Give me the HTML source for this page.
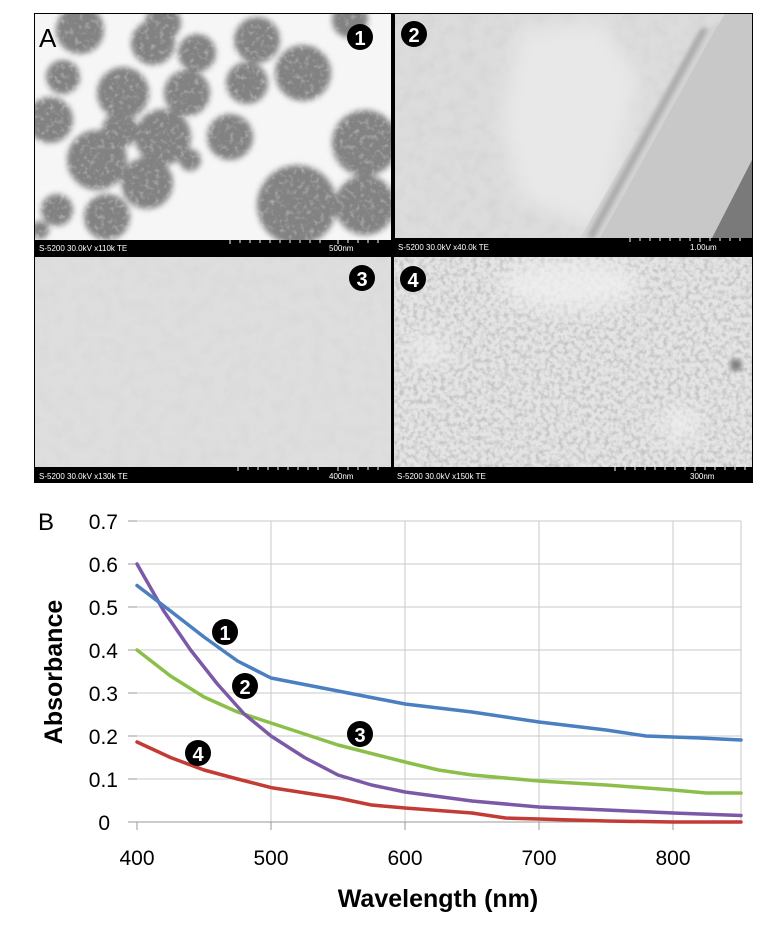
<!DOCTYPE html>
<html><head><meta charset="utf-8"><style>
html,body{margin:0;padding:0;background:#fff;}
body{width:782px;height:942px;overflow:hidden;position:relative;font-family:"Liberation Sans",sans-serif;}
</style></head><body>
<svg width="782" height="942" viewBox="0 0 782 942" xmlns="http://www.w3.org/2000/svg" style="position:absolute;left:0;top:0">
<defs>
<filter id="bl" x="-20%" y="-20%" width="140%" height="140%"><feGaussianBlur stdDeviation="3"/></filter>
<filter id="bl2" x="-20%" y="-20%" width="140%" height="140%"><feGaussianBlur stdDeviation="10"/></filter>
<filter id="noise"><feTurbulence type="fractalNoise" baseFrequency="0.22" numOctaves="2" seed="3"/><feColorMatrix type="matrix" values="0 0 0 0 0.55  0 0 0 0 0.55  0 0 0 0 0.55  0 0 0 2.6 -1.05"/></filter>
<filter id="noise2"><feTurbulence type="fractalNoise" baseFrequency="0.08" numOctaves="3" seed="7"/><feColorMatrix type="matrix" values="0 0 0 0 0.6  0 0 0 0 0.6  0 0 0 0 0.6  0 0 0 1.4 -0.55"/></filter>
<filter id="noise3"><feTurbulence type="fractalNoise" baseFrequency="0.2" numOctaves="2" seed="11"/><feColorMatrix type="matrix" values="0 0 0 0 0.95  0 0 0 0 0.95  0 0 0 0 0.95  0 0 0 1.8 -0.9"/></filter>
<clipPath id="c1"><rect x="35" y="14" width="356" height="226"/></clipPath>
<clipPath id="c2"><rect x="395" y="14" width="357" height="224"/></clipPath>
<clipPath id="c3"><rect x="35" y="257" width="356" height="210"/></clipPath>
<clipPath id="c4"><rect x="394" y="257" width="358" height="210"/></clipPath>
</defs>
<rect x="34" y="13" width="719" height="470" fill="#000"/>
<g clip-path="url(#c1)">
<rect x="35" y="14" width="356" height="226" fill="#f6f6f6"/>
<g fill="#828282" filter="url(#bl)">
<circle cx="80" cy="30" r="24"/><circle cx="63" cy="77" r="17"/><circle cx="123" cy="93" r="26"/><circle cx="153" cy="43" r="22"/>
<circle cx="197" cy="53" r="19"/><circle cx="187" cy="93" r="23"/><circle cx="247" cy="83" r="21"/><circle cx="257" cy="40" r="23"/>
<circle cx="303" cy="73" r="28"/><circle cx="50" cy="120" r="23"/><circle cx="97" cy="160" r="30"/><circle cx="163" cy="137" r="28"/>
<circle cx="230" cy="137" r="23"/><circle cx="147" cy="183" r="26"/><circle cx="57" cy="210" r="16"/><circle cx="107" cy="217" r="23"/>
<circle cx="297" cy="205" r="40"/><circle cx="365" cy="143" r="33"/><circle cx="365" cy="205" r="30"/><circle cx="190" cy="160" r="11"/>
<circle cx="163" cy="23" r="18"/><circle cx="350" cy="20" r="18"/><circle cx="120" cy="130" r="18"/><circle cx="40" cy="230" r="9"/>
</g>
<rect x="35" y="14" width="356" height="226" filter="url(#noise3)" opacity="0.5"/>
</g>
<rect x="35" y="240" width="356" height="16" fill="#000"/>
<text x="39" y="251" font-size="8" fill="#fff">S-5200 30.0kV x110k TE</text>
<text x="329" y="251" font-size="8" fill="#fff">500nm</text>
<path d="M230 240v4M240 240v3M250 240v3M260 240v3M270 240v3M280 240v3M290 240v3M300 240v3M310 240v3M320 240v3M338 240v4M348 240v3M358 240v3M368 240v3M378 240v3" stroke="#fff" stroke-width="1"/>
<text x="39" y="47" font-size="26" fill="#000">A</text>
<circle cx="360" cy="37" r="13" fill="#000"/><text x="360" y="45" font-size="20" font-weight="bold" fill="#fff" text-anchor="middle">1</text>
<g clip-path="url(#c2)">
<rect x="395" y="14" width="357" height="224" fill="#dcdcdc"/>
<rect x="395" y="14" width="357" height="224" filter="url(#noise2)" opacity="0.6"/>
<g fill="#e8e8e8" filter="url(#bl2)"><path d="M520 30 L600 20 L640 80 L620 160 L600 230 L520 200 L500 120 Z"/></g>
<path d="M580 238 L700 30 L752 14 L752 238 Z" fill="#d4d4d4"/>
<path d="M600 238 L715 30 L725 14 L752 14 L752 238 Z" fill="#c8c8c8"/>
<path d="M712 238 L752 160 L752 238 Z" fill="#7a7a7a"/>
<path d="M590 238 L705 28" stroke="#9a9a9a" stroke-width="5" filter="url(#bl)"/>
</g>
<rect x="395" y="238" width="357" height="18" fill="#000"/>
<text x="398" y="250" font-size="8" fill="#fff">S-5200 30.0kV x40.0k TE</text>
<text x="690" y="250" font-size="8" fill="#fff">1.00um</text>
<path d="M630 238v4M640 238v3M650 238v3M660 238v3M670 238v3M680 238v3M690 238v3M700 238v4M710 238v3M720 238v3M730 238v3M740 238v3" stroke="#fff"/>
<circle cx="414" cy="34" r="13" fill="#000"/><text x="414" y="42" font-size="20" font-weight="bold" fill="#fff" text-anchor="middle">2</text>
<g clip-path="url(#c3)">
<rect x="35" y="257" width="356" height="210" fill="#dedede"/>
<rect x="35" y="257" width="356" height="210" filter="url(#noise2)" opacity="0.35"/>
</g>
<rect x="35" y="467" width="356" height="16" fill="#000"/>
<text x="39" y="479" font-size="8" fill="#fff">S-5200 30.0kV x130k TE</text>
<text x="329" y="479" font-size="8" fill="#fff">400nm</text>
<path d="M238 467v4M248 467v3M258 467v3M268 467v3M278 467v3M288 467v3M298 467v3M308 467v3M318 467v3M338 467v4M348 467v3M358 467v3M368 467v3M378 467v3" stroke="#fff"/>
<circle cx="362" cy="278" r="13" fill="#000"/><text x="362" y="286" font-size="20" font-weight="bold" fill="#fff" text-anchor="middle">3</text>
<g clip-path="url(#c4)">
<rect x="394" y="257" width="358" height="210" fill="#e4e4e4"/>
<rect x="394" y="257" width="358" height="210" filter="url(#noise)"/>
<g fill="#f0f0f0" filter="url(#bl2)" opacity="0.8"><ellipse cx="570" cy="285" rx="70" ry="25"/><ellipse cx="680" cy="425" rx="18" ry="18"/><ellipse cx="430" cy="350" rx="18" ry="14"/></g>
<circle cx="736" cy="365" r="6" fill="#777" filter="url(#bl)"/>
</g>
<rect x="394" y="467" width="358" height="16" fill="#000"/>
<text x="397" y="479" font-size="8" fill="#fff">S-5200 30.0kV x150k TE</text>
<text x="690" y="479" font-size="8" fill="#fff">300nm</text>
<path d="M615 467v4M625 467v3M635 467v3M645 467v3M655 467v3M665 467v3M675 467v3M685 467v3M695 467v4M705 467v3M715 467v3M725 467v3M735 467v3M745 467v3" stroke="#fff"/>
<circle cx="413" cy="279" r="13" fill="#000"/><text x="413" y="287" font-size="20" font-weight="bold" fill="#fff" text-anchor="middle">4</text>
<text x="38" y="530" font-size="24" fill="#000">B</text>
<g stroke="#c8c8c8" stroke-width="1">
<path d="M137 521H741M137 564H741M137 607H741M137 650H741M137 693H741M137 736H741M137 779H741"/>
<path d="M271 521V822M405 521V822M539 521V822M673 521V822M741 521V822"/>
</g>
<path d="M128 822H741M137 822V830M271 822V830M405 822V830M539 822V830M673 822V830" stroke="#999" stroke-width="1"/>
<path d="M128 521H137M128 564H137M128 607H137M128 650H137M128 693H137M128 736H137M128 779H137" stroke="#999"/>
<g font-size="21" fill="#000" text-anchor="end">
<text x="118" y="529">0.7</text><text x="118" y="572">0.6</text><text x="118" y="615">0.5</text><text x="118" y="658">0.4</text>
<text x="118" y="701">0.3</text><text x="118" y="744">0.2</text><text x="118" y="787">0.1</text><text x="110" y="830">0</text>
</g>
<g font-size="21" fill="#000" text-anchor="middle">
<text x="137" y="865">400</text><text x="271" y="865">500</text><text x="405" y="865">600</text><text x="539" y="865">700</text><text x="673" y="865">800</text>
</g>
<text x="438" y="907" font-size="25" font-weight="bold" text-anchor="middle">Wavelength (nm)</text>
<text transform="translate(62,672) rotate(-90)" font-size="25" font-weight="bold" text-anchor="middle">Absorbance</text>
<g fill="none" stroke-width="3.5" stroke-linejoin="round" stroke-linecap="round">
<path style="stroke:#c23b35" d="M137 742 L170.5 757.5 L204 770 L237.5 779 L271 787.6 L338 798 L371.5 805 L405 808 L472 813 L505.5 818 L539 819 L606 821 L673 822 L741 822"/>
<path style="stroke:#8cbf4a" d="M137 650 L170.5 676 L204 697 L237.5 712 L271 723 L338 745 L405 762 L438.5 770 L472 775 L539 781 L606 785 L673 790 L706.5 793 L741 793"/>
<path style="stroke:#7b59a7" d="M137 564 L163.8 611 L190.6 650 L217.4 684 L244.2 714 L271 736 L304.5 757.5 L338 775 L371.5 785 L405 792 L472 801 L539 807 L606 810 L673 813 L741 815.5"/>
<path style="stroke:#4a7fc1" d="M137 585.5 L170.5 611 L204 637 L237.5 661 L271 678 L338 691 L405 704 L472 712 L539 722 L606 730 L646 736 L673 737 L699.8 738 L741 740"/>
</g>
<circle cx="225" cy="632" r="13" fill="#000"/><text x="225" y="640" font-size="20" font-weight="bold" fill="#fff" text-anchor="middle">1</text>
<circle cx="245" cy="686" r="13" fill="#000"/><text x="245" y="694" font-size="20" font-weight="bold" fill="#fff" text-anchor="middle">2</text>
<circle cx="360" cy="734" r="13" fill="#000"/><text x="360" y="742" font-size="20" font-weight="bold" fill="#fff" text-anchor="middle">3</text>
<circle cx="198" cy="753" r="13" fill="#000"/><text x="198" y="761" font-size="20" font-weight="bold" fill="#fff" text-anchor="middle">4</text>
</svg>
</body></html>
